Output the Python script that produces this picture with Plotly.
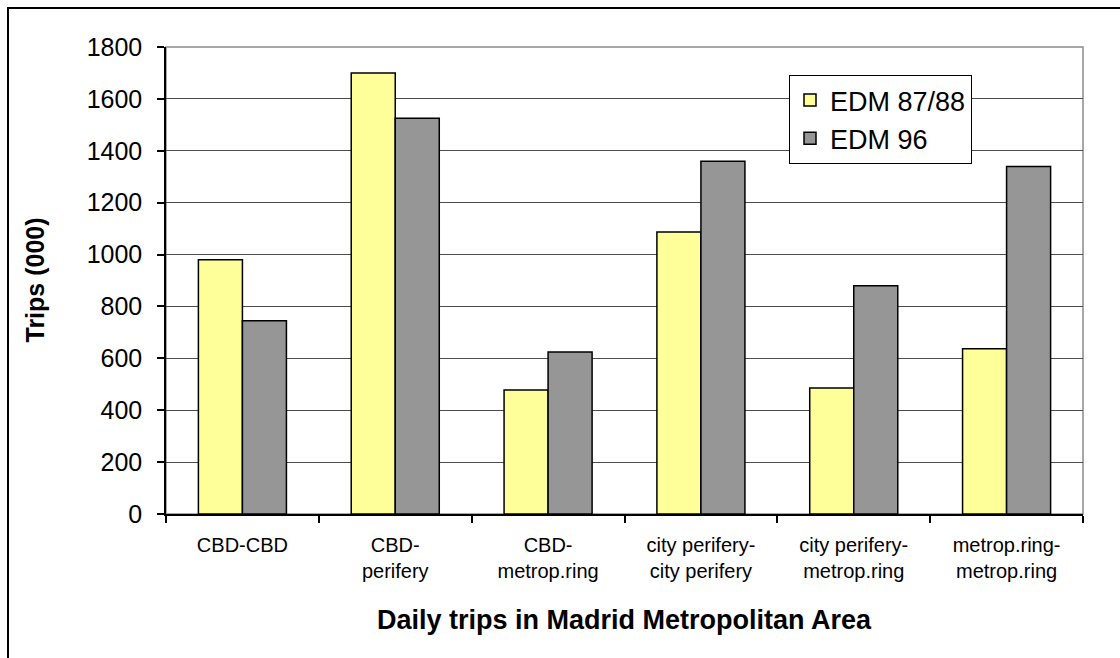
import plotly.graph_objects as go

# Daily trips (thousands) by origin-destination pair, two survey waves
categories = [
    "CBD-CBD",
    "CBD-<br>perifery",
    "CBD-<br>metrop.ring",
    "city perifery-<br>city perifery",
    "city perifery-<br>metrop.ring",
    "metrop.ring-<br>metrop.ring",
]
edm_8788 = [980, 1700, 478, 1087, 486, 637]
edm_96 = [745, 1525, 624, 1360, 880, 1339]
y_ticks = [0, 200, 400, 600, 800, 1000, 1200, 1400, 1600, 1800]

FONT = "Liberation Sans, Arial, sans-serif"

W, H = 1120, 658
L, R, T, B = 166, 37, 47, 144
PW, PH = W - L - R, H - T - B


def px_x(x):
    return (x - L) / PW


def px_y(y):
    return (H - B - y) / PH


fig = go.Figure()
fig.add_trace(go.Bar(
    x=categories, y=edm_8788, name="EDM 87/88",
    marker=dict(color="#FFFF99", line=dict(color="#000000", width=1.5)),
))
fig.add_trace(go.Bar(
    x=categories, y=edm_96, name="EDM 96",
    marker=dict(color="#969696", line=dict(color="#000000", width=1.5)),
))

fig.update_layout(
    width=W, height=H,
    margin=dict(l=L, r=R, t=T, b=B, pad=0),
    paper_bgcolor="#FFFFFF",
    plot_bgcolor="#FFFFFF",
    barmode="group",
    bargap=0.424,
    bargroupgap=0,
    font=dict(family=FONT, color="#000000"),
    showlegend=True,
    legend=dict(
        x=px_x(789), y=px_y(75), xanchor="left", yanchor="top",
        bgcolor="#FFFFFF", bordercolor="#000000", borderwidth=1,
        font=dict(family=FONT, size=27, color="#000000"),
        itemwidth=30, tracegroupgap=0,
    ),
    xaxis=dict(
        type="category",
        showline=True, linecolor="#000000", linewidth=1.5,
        ticks="outside", tickson="boundaries", ticklen=7,
        tickcolor="#000000", tickwidth=1.5,
        ticklabelstandoff=12,
        tickfont=dict(family=FONT, size=20, color="#000000"),
        showgrid=False,
        fixedrange=True,
    ),
    yaxis=dict(
        range=[0, 1800],
        tickvals=y_ticks,
        showline=True, linecolor="#000000", linewidth=1.5,
        ticks="outside", ticklen=7, tickcolor="#000000", tickwidth=1.5,
        ticklabelstandoff=10,
        tickfont=dict(family=FONT, size=25, color="#000000"),
        showgrid=True, gridcolor="#4D4D4D", gridwidth=1.2,
        zeroline=False,
        fixedrange=True,
    ),
    shapes=[
        # grey plot-area frame
        dict(type="rect", xref="paper", yref="paper", x0=0, x1=1, y0=0, y1=1,
             line=dict(color="#8C8C8C", width=1.5), layer="below"),
        # outer chart border (left and top edges visible)
        dict(type="rect", xref="paper", yref="paper",
             x0=px_x(8), x1=px_x(1140), y0=px_y(680), y1=px_y(8),
             line=dict(color="#000000", width=2), layer="above"),
    ],
    annotations=[
        dict(text="<b>Trips (000)</b>", xref="paper", yref="paper",
             x=px_x(34), y=0.5, xanchor="center", yanchor="middle",
             textangle=-90, showarrow=False,
             font=dict(family=FONT, size=25, color="#000000")),
        dict(text="<b>Daily trips in Madrid Metropolitan Area</b>",
             xref="paper", yref="paper",
             x=0.5, y=px_y(620), xanchor="center", yanchor="middle",
             showarrow=False,
             font=dict(family=FONT, size=27, color="#000000")),
    ],
)

fig.write_html("out.html")
